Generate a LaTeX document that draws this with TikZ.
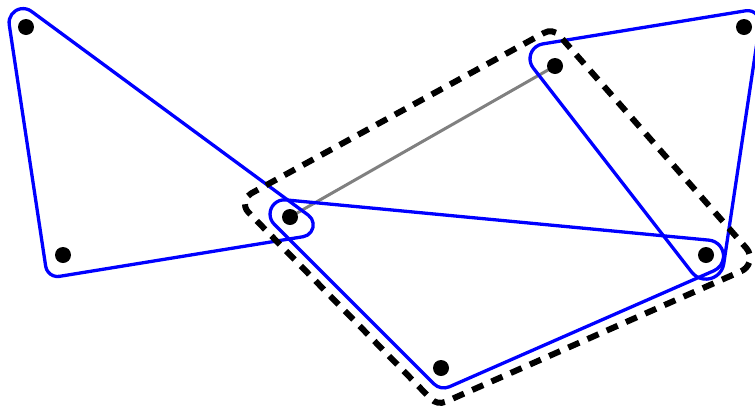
\documentclass[tikz,border=0pt]{standalone}
\usetikzlibrary{backgrounds}
\begin{document}
\begin{tikzpicture}[x=1pt,y=-1pt,
  hedge/.style={draw=blue,line width=3.3pt,line join=round},
  dashedge/.style={draw=black,line width=6pt,dash pattern=on 12pt off 9pt},
  vtx/.style={circle,fill=black,inner sep=0pt,minimum size=16pt},
  link/.style={draw=gray,line width=3pt}]
\useasboundingbox (0,0) rectangle (755,408);
% vertices
\node[vtx] (A) at (26,27) {};
\node[vtx] (B) at (63,255) {};
\node[vtx] (C) at (290,217) {};
\node[vtx] (F) at (555,66) {};
\node[vtx] (G) at (744,27) {};
\node[vtx] (E) at (706,255) {};
\node[vtx] (D) at (441,368) {};
% tangent points where each rounded corner of the outlines starts
\coordinate (t1c) at (308.35,215.2);
\coordinate (t1b) at (59.48,276.35);
\coordinate (t1a) at (9.23,24.66);
\coordinate (t2b) at (745.86,10.75);
\coordinate (t2c) at (723.74,263.81);
\coordinate (t2a) at (533.18,67.93);
\coordinate (t3b) at (709.02,240.15);
\coordinate (t3c) at (449.36,386.76);
\coordinate (t3a) at (274.22,224.22);
\coordinate (t4b) at (544.37,32.72);
\coordinate (t4c) at (746.35,248.15);
\coordinate (t4d) at (445.54,401.76);
\coordinate (t4a) at (248.37,212.3);
\begin{scope}[on background layer]
\draw[link] (C.center) -- (F.center);
% left hyperedge {A,B,C}
\draw[hedge] (t1c) arc[start angle=-53.64, end angle=80.75, radius=12]
  -- (t1b) arc[start angle=80.75, end angle=171.42, radius=12]
  -- (t1a) arc[start angle=171.42, end angle=306.36, radius=14] -- cycle;
% right hyperedge {F,G,E}
\draw[hedge] (t2b) arc[start angle=-99.27, end angle=8.53, radius=12]
  -- (t2c) arc[start angle=8.53, end angle=142.18, radius=18]
  -- (t2a) arc[start angle=142.18, end angle=260.73, radius=15] -- cycle;
% bottom hyperedge {C,E,D}
\draw[hedge] (t3b) arc[start angle=-84.56, end angle=66.33, radius=16]
  -- (t3c) arc[start angle=66.33, end angle=135, radius=14]
  -- (t3a) arc[start angle=135, end angle=275.44, radius=14.3] -- cycle;
% dashed hyperedge {C,F,E,D}
\draw[dashedge] (t4b) arc[start angle=-118.73, end angle=-41.33, radius=12]
  -- (t4c) arc[start angle=-41.33, end angle=66.17, radius=14.6]
  -- (t4d) arc[start angle=66.17, end angle=135.62, radius=13]
  -- (t4a) arc[start angle=135.62, end angle=241.27, radius=12] -- cycle;
\end{scope}
\end{tikzpicture}
\end{document}
